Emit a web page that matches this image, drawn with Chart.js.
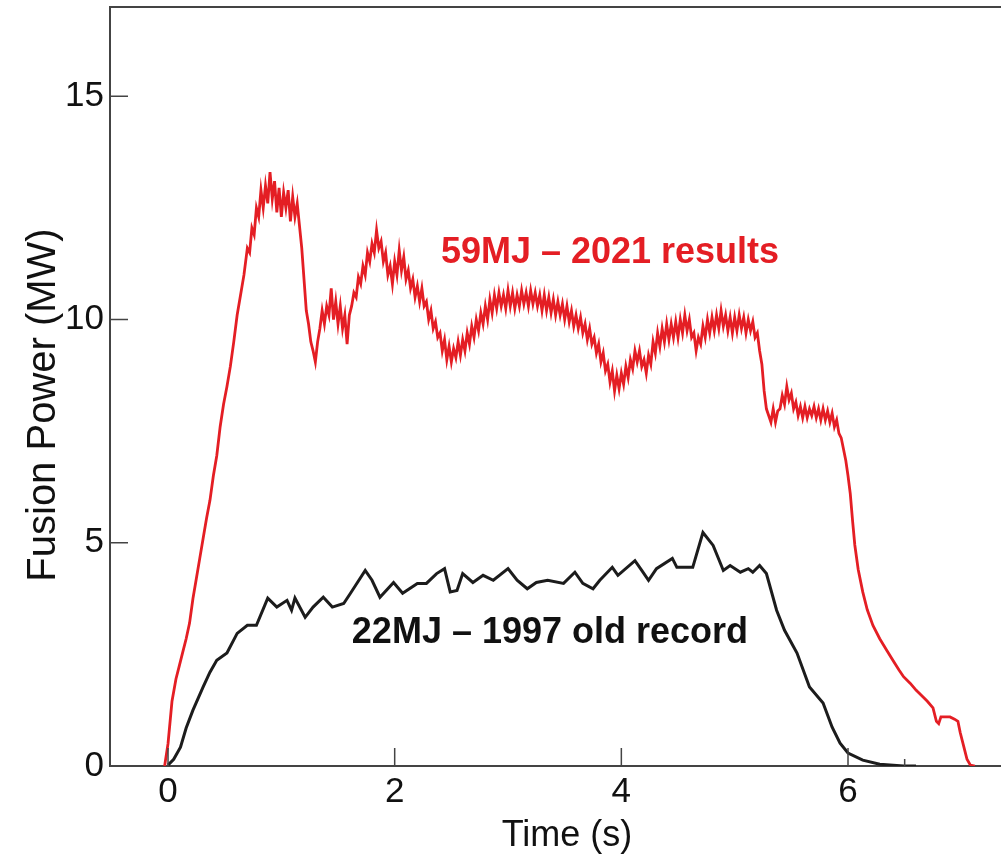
<!DOCTYPE html>
<html>
<head>
<meta charset="utf-8">
<script src="https://cdn.jsdelivr.net/npm/chart.js@4/dist/chart.umd.min.js"></script>
<style>
  html, body { margin: 0; padding: 0; background: #fff; }
  #chart { display: block; }
</style>
</head>
<body>
<canvas id="chart" width="1001" height="856"></canvas>
<script>
const redTime = [
  -0.03, 0.00, 0.035, 0.07, 0.10, 0.13, 0.16, 0.19, 0.22, 0.25,
  0.28, 0.31, 0.34, 0.37, 0.40, 0.43, 0.46, 0.49, 0.52, 0.55,
  0.58, 0.61, 0.64, 0.67, 0.70, 0.72, 0.74, 0.76, 0.78, 0.80,
  0.82, 0.84, 0.86, 0.88, 0.90, 0.92, 0.94, 0.96, 0.98, 1.00,
  1.02, 1.04, 1.06, 1.08, 1.10, 1.12, 1.14, 1.16, 1.18, 1.20,
  1.22, 1.24, 1.26, 1.28, 1.30, 1.32, 1.34, 1.36, 1.38, 1.40,
  1.42, 1.44, 1.46, 1.48, 1.50, 1.52, 1.54, 1.56, 1.58, 1.60,
  1.62, 1.64, 1.66, 1.68, 1.70, 1.72, 1.74, 1.76, 1.78, 1.80,
  1.82, 1.84, 1.86, 1.88, 1.90, 1.92, 1.94, 1.96, 1.98, 2.00,
  2.02, 2.04, 2.06, 2.08, 2.10, 2.12, 2.14, 2.16, 2.18, 2.20,
  2.22, 2.24, 2.26, 2.28, 2.30, 2.32, 2.34, 2.36, 2.38, 2.40,
  2.42, 2.44, 2.46, 2.48, 2.50, 2.52, 2.54, 2.56, 2.58, 2.60,
  2.62, 2.64, 2.66, 2.68, 2.70, 2.72, 2.74, 2.76, 2.78, 2.80,
  2.82, 2.84, 2.86, 2.88, 2.90, 2.92, 2.94, 2.96, 2.98, 3.00,
  3.02, 3.04, 3.06, 3.08, 3.10, 3.12, 3.14, 3.16, 3.18, 3.20,
  3.22, 3.24, 3.26, 3.28, 3.30, 3.32, 3.34, 3.36, 3.38, 3.40,
  3.42, 3.44, 3.46, 3.48, 3.50, 3.52, 3.54, 3.56, 3.58, 3.60,
  3.62, 3.64, 3.66, 3.68, 3.70, 3.72, 3.74, 3.76, 3.78, 3.80,
  3.82, 3.84, 3.86, 3.88, 3.90, 3.92, 3.94, 3.96, 3.98, 4.00,
  4.02, 4.04, 4.06, 4.08, 4.10, 4.12, 4.14, 4.16, 4.18, 4.20,
  4.22, 4.24, 4.26, 4.28, 4.30, 4.32, 4.34, 4.36, 4.38, 4.40,
  4.42, 4.44, 4.46, 4.48, 4.50, 4.52, 4.54, 4.56, 4.58, 4.60,
  4.62, 4.64, 4.66, 4.68, 4.70, 4.72, 4.74, 4.76, 4.78, 4.80,
  4.82, 4.84, 4.86, 4.88, 4.90, 4.92, 4.94, 4.96, 4.98, 5.00,
  5.02, 5.04, 5.06, 5.08, 5.10, 5.12, 5.14, 5.16, 5.18, 5.20,
  5.22, 5.24, 5.26, 5.28, 5.30, 5.32, 5.34, 5.36, 5.38, 5.40,
  5.42, 5.44, 5.46, 5.48, 5.50, 5.52, 5.54, 5.56, 5.58, 5.60,
  5.62, 5.64, 5.66, 5.68, 5.70, 5.72, 5.74, 5.76, 5.78, 5.80,
  5.82, 5.84, 5.86, 5.88, 5.90, 5.92, 5.94, 5.96, 5.98, 6.00,
  6.02, 6.04, 6.06, 6.09, 6.13, 6.17, 6.22, 6.28, 6.34, 6.40,
  6.45, 6.49, 6.55, 6.60, 6.64, 6.70, 6.75, 6.78, 6.80, 6.82,
  6.86, 6.90, 6.94, 6.97, 6.99, 7.02, 7.05, 7.08, 7.12
];
const redPower = [
  0, 0.5, 1.45, 1.95, 2.25, 2.55, 2.85, 3.2, 3.75, 4.2,
  4.65, 5.1, 5.55, 5.95, 6.5, 6.95, 7.6, 8.1, 8.5, 8.95,
  9.5, 10.1, 10.55, 11.0, 11.6, 11.5, 12.05, 11.9, 12.5, 12.3,
  12.9, 12.5, 13.0, 12.6, 13.3, 12.7, 13.1, 12.4, 12.95, 12.3,
  12.85, 12.5, 12.9, 12.2, 12.75, 12.3, 12.6, 12.1, 11.6, 10.9,
  10.2, 9.9, 9.5, 9.3, 9.05, 9.5, 9.8, 10.2, 9.9, 10.3,
  10.1, 10.7, 10.0, 10.4, 9.9, 10.3, 9.8, 10.1, 9.45, 10.1,
  10.3, 10.6, 10.5, 10.95, 10.8, 11.2, 11.0, 11.5, 11.3, 11.7,
  11.5, 12.0, 11.6, 11.75, 11.3, 11.5, 11.0, 11.2, 10.8, 11.3,
  11.0, 11.55, 11.1, 11.4, 10.9, 11.1, 10.7, 10.9, 10.5, 10.75,
  10.4, 10.7, 10.3, 10.4, 10.0, 10.2, 9.8, 9.95, 9.6, 9.7,
  9.3, 9.55, 9.1, 9.4, 9.05, 9.35, 9.15, 9.5, 9.2, 9.55,
  9.3, 9.7, 9.45, 9.85, 9.6, 10.0, 9.75, 10.15, 9.9, 10.3,
  10.0, 10.45, 10.15, 10.55, 10.25, 10.6, 10.3, 10.55, 10.25, 10.65,
  10.3, 10.6, 10.25, 10.55, 10.3, 10.65, 10.35, 10.6, 10.3, 10.65,
  10.35, 10.6, 10.3, 10.55, 10.2, 10.55, 10.2, 10.5, 10.15, 10.45,
  10.1, 10.4, 10.1, 10.35, 10.0, 10.3, 9.95, 10.2, 9.85, 10.1,
  9.8, 10.05, 9.7, 9.9, 9.55, 9.8, 9.45, 9.6, 9.25, 9.45,
  9.05, 9.25, 8.85, 9.0, 8.6, 8.85, 8.4, 8.75, 8.45, 8.8,
  8.55, 8.95, 8.7, 9.1, 8.9, 9.3, 9.05, 9.3, 8.95, 9.1,
  8.8, 9.2, 9.0, 9.5, 9.25, 9.7, 9.4, 9.8, 9.5, 9.9,
  9.55, 9.9, 9.6, 9.95, 9.6, 10.0, 9.7, 10.1, 9.75, 10.0,
  9.6, 9.7, 9.3, 9.6, 9.45, 9.85, 9.6, 10.0, 9.7, 10.05,
  9.75, 10.1, 9.8, 10.2, 9.85, 10.1, 9.75, 10.05, 9.7, 10.05,
  9.75, 10.1, 9.8, 10.05, 9.7, 10.0, 9.75, 9.95, 9.6, 9.7,
  9.3, 9.0, 8.4, 8.0, 7.85, 7.7, 8.0, 7.7, 7.95, 8.0,
  8.3, 8.1, 8.5, 8.2, 8.35, 8.0, 8.15, 7.85, 8.05, 7.8,
  8.05, 7.8, 8.0, 7.85, 8.05, 7.8, 8.0, 7.75, 8.0, 7.75,
  7.95, 7.7, 7.9, 7.6, 7.75, 7.45, 7.35, 7.1, 6.85, 6.5,
  6.1, 5.5, 4.95, 4.4, 3.9, 3.5, 3.15, 2.85, 2.6, 2.35,
  2.15, 2.0, 1.85, 1.7, 1.6, 1.45, 1.3, 1.0, 0.95, 1.1,
  1.1, 1.1, 1.05, 1.0, 0.75, 0.45, 0.15, 0.02, 0
];

const blackTime = [
  0.00, 0.05, 0.11, 0.16, 0.22, 0.31, 0.37, 0.43, 0.52, 0.61,
  0.70, 0.78, 0.88, 0.96, 1.05, 1.09, 1.12, 1.21, 1.28, 1.37,
  1.45, 1.55, 1.61, 1.74, 1.80, 1.87, 1.99, 2.07, 2.20, 2.28,
  2.37, 2.44, 2.49, 2.55, 2.60, 2.69, 2.78, 2.87, 3.00, 3.08,
  3.17, 3.25, 3.35, 3.49, 3.59, 3.66, 3.75, 3.81, 3.92, 3.97,
  4.12, 4.18, 4.24, 4.31, 4.45, 4.49, 4.63, 4.72, 4.81, 4.90,
  4.96, 5.05, 5.12, 5.16, 5.22, 5.28, 5.37, 5.44, 5.55, 5.66,
  5.78, 5.86, 5.93, 6.00, 6.13, 6.28, 6.49, 6.60
];
const blackPower = [
  0.02, 0.15, 0.42, 0.85, 1.25, 1.77, 2.1, 2.37, 2.53, 2.97,
  3.15, 3.15, 3.76, 3.56, 3.71, 3.49, 3.76, 3.33, 3.56, 3.78,
  3.56, 3.64, 3.87, 4.38, 4.16, 3.78, 4.11, 3.87, 4.09, 4.09,
  4.31, 4.42, 3.9, 3.93, 4.31, 4.11, 4.27, 4.16, 4.42, 4.16,
  3.97, 4.11, 4.16, 4.09, 4.34, 4.09, 3.97, 4.16, 4.45, 4.27,
  4.6, 4.38, 4.16, 4.42, 4.65, 4.45, 4.45, 5.23, 4.94, 4.38,
  4.49, 4.34, 4.42, 4.34, 4.49, 4.31, 3.49, 3.04, 2.53, 1.77,
  1.41, 0.87, 0.51, 0.29, 0.13, 0.04, 0.0, 0.0
];

const xTicks = [0, 2, 4, 6];
const xMinorTicks = [6.5];
const yTicks = [0, 5, 10, 15];

const RED = 'rgb(228, 30, 36)';
const BLACK = '#1c1c1c';
const FONT = "'Liberation Sans', Arial, sans-serif";

function toPoints(xs, ys) {
  return xs.map((x, i) => ({ x, y: ys[i] }));
}

// inward tick marks, top frame line, axis titles and curve labels
const decorations = {
  id: 'decorations',
  afterDraw(chart) {
    const { ctx, chartArea: a, scales: { x, y } } = chart;
    ctx.save();
    ctx.strokeStyle = '#444';
    ctx.lineWidth = 2;
    ctx.beginPath();
    ctx.moveTo(a.left, a.top);
    ctx.lineTo(a.right, a.top);
    ctx.stroke();

    ctx.lineWidth = 1.5;
    ctx.beginPath();
    xTicks.forEach(v => {
      const px = x.getPixelForValue(v);
      ctx.moveTo(px, a.bottom);
      ctx.lineTo(px, a.bottom - 18);
    });
    xMinorTicks.forEach(v => {
      const px = x.getPixelForValue(v);
      ctx.moveTo(px, a.bottom);
      ctx.lineTo(px, a.bottom - 7);
    });
    yTicks.forEach(v => {
      const py = y.getPixelForValue(v);
      ctx.moveTo(a.left, py);
      ctx.lineTo(a.left + 18, py);
    });
    ctx.stroke();

    ctx.fillStyle = '#111';
    ctx.textAlign = 'center';
    ctx.textBaseline = 'alphabetic';
    ctx.font = `36px ${FONT}`;
    ctx.fillText('Time (s)', 567, 846);

    ctx.save();
    ctx.font = `40px ${FONT}`;
    ctx.translate(55, 405);
    ctx.rotate(-Math.PI / 2);
    ctx.fillText('Fusion Power (MW)', 0, 0);
    ctx.restore();

    ctx.font = `bold 36px ${FONT}`;
    ctx.fillStyle = RED;
    ctx.fillText('59MJ \u2013 2021 results', x.getPixelForValue(3.9), y.getPixelForValue(11.27));
    ctx.fillStyle = '#111';
    ctx.fillText('22MJ \u2013 1997 old record', x.getPixelForValue(3.37), y.getPixelForValue(2.75));
    ctx.restore();
  }
};

const ctx = document.getElementById('chart').getContext('2d');
new Chart(ctx, {
  type: 'line',
  data: {
    datasets: [
      {
        label: '22MJ - 1997 old record',
        data: toPoints(blackTime, blackPower),
        borderColor: BLACK,
        borderWidth: 3,
        pointRadius: 0,
        tension: 0
      },
      {
        label: '59MJ - 2021 results',
        data: toPoints(redTime, redPower),
        borderColor: RED,
        borderWidth: 2.8,
        pointRadius: 0,
        tension: 0
      }
    ]
  },
  options: {
    responsive: false,
    animation: false,
    devicePixelRatio: 1,
    layout: { padding: { top: 7, right: 0, left: 0, bottom: 0 } },
    plugins: {
      legend: { display: false },
      tooltip: { enabled: false }
    },
    scales: {
      x: {
        type: 'linear',
        min: -0.512,
        max: 7.35,
        afterBuildTicks: s => { s.ticks = xTicks.map(v => ({ value: v })); },
        afterFit: s => { s.height = 90; s.paddingLeft = 0; s.paddingRight = 0; },
        grid: { drawOnChartArea: false, drawTicks: false },
        border: { display: true, color: '#444', width: 2 },
        ticks: {
          padding: 5,
          color: '#111',
          font: { family: FONT, size: 35 },
          maxRotation: 0
        }
      },
      y: {
        min: 0,
        max: 17,
        afterBuildTicks: s => { s.ticks = yTicks.map(v => ({ value: v })); },
        afterFit: s => { s.width = 110; s.paddingTop = 0; s.paddingBottom = 0; },
        grid: { drawOnChartArea: false, drawTicks: false },
        border: { display: true, color: '#444', width: 2 },
        ticks: {
          padding: 6,
          color: '#111',
          font: { family: FONT, size: 35 }
        }
      }
    }
  },
  plugins: [decorations]
});
</script>
</body>
</html>
